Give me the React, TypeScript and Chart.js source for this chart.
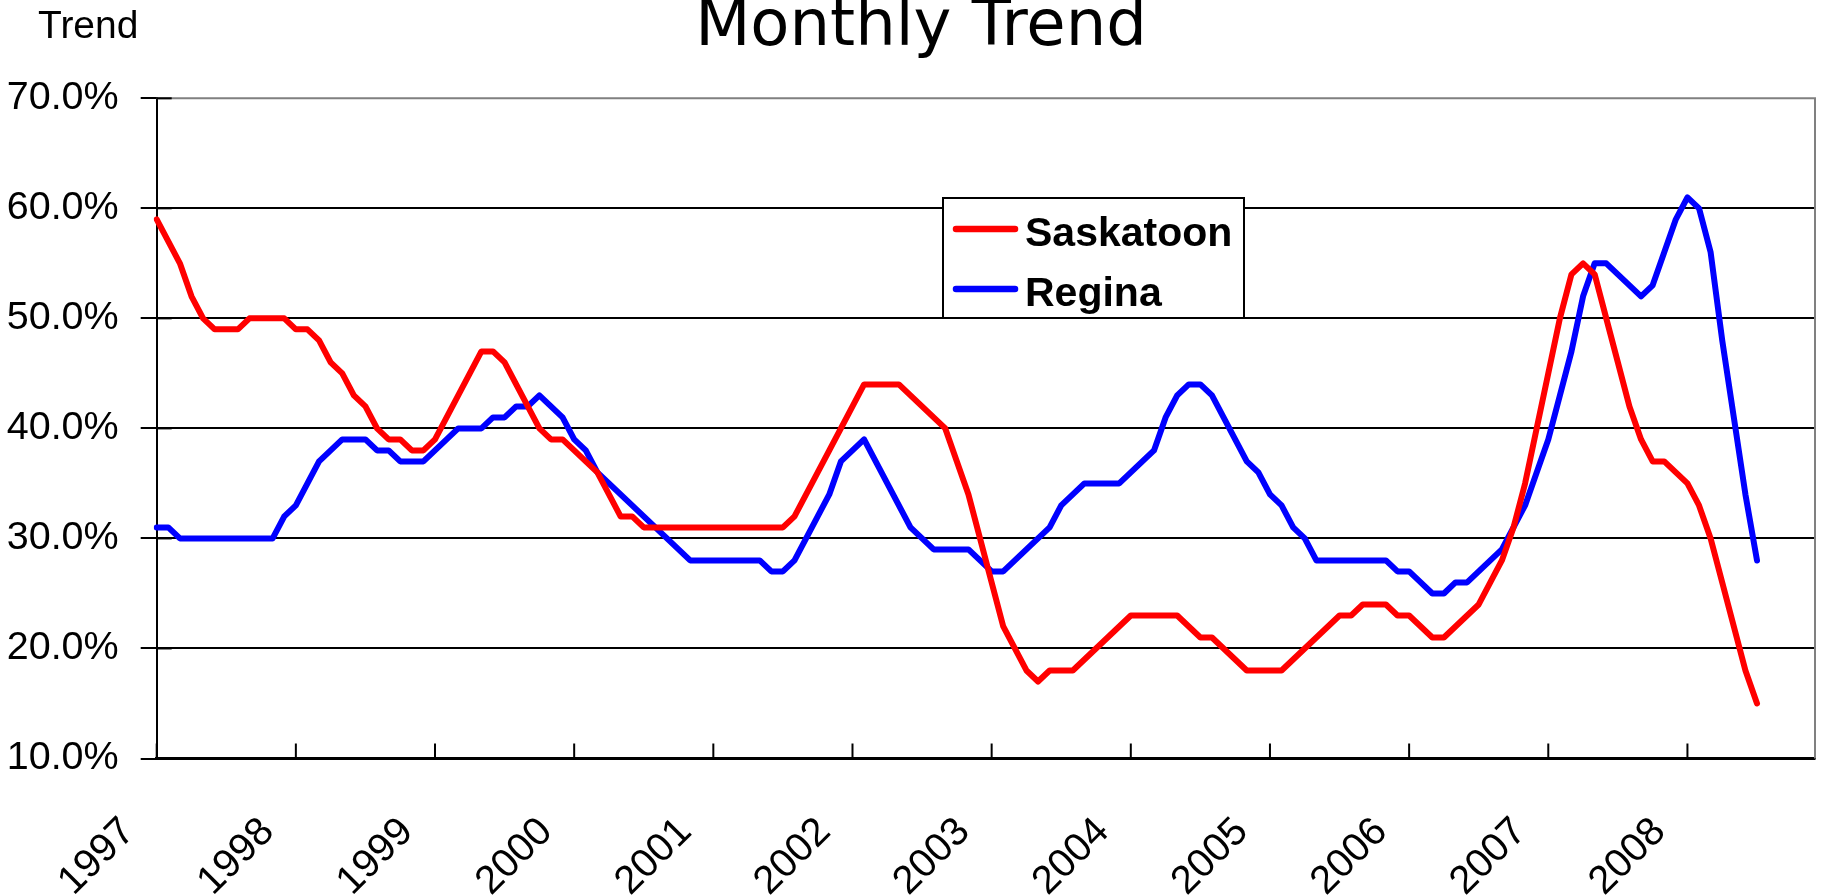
import { useEffect, useRef } from 'react';
import { Chart, registerables } from 'chart.js';

Chart.register(...registerables);

// ---- data ----
const years = ['1997', '1998', '1999', '2000', '2001', '2002', '2003', '2004', '2005', '2006', '2007', '2008'];
const monthNums = ['01', '02', '03', '04', '05', '06', '07', '08', '09', '10', '11', '12'];
const months = years.flatMap((y) => monthNums.map((m) => `${y}-${m}`));

const saskatoon = [
  59, 57, 55, 52, 50, 49, 49, 49, 50, 50,
  50, 50, 49, 49, 48, 46, 45, 43, 42, 40,
  39, 39, 38, 38, 39, 41, 43, 45, 47, 47,
  46, 44, 42, 40, 39, 39, 38, 37, 36, 34,
  32, 32, 31, 31, 31, 31, 31, 31, 31, 31,
  31, 31, 31, 31, 31, 32, 34, 36, 38, 40,
  42, 44, 44, 44, 44, 43, 42, 41, 40, 37,
  34, 30, 26, 22, 20, 18, 17, 18, 18, 18,
  19, 20, 21, 22, 23, 23, 23, 23, 23, 22,
  21, 21, 20, 19, 18, 18, 18, 18, 19, 20,
  21, 22, 23, 23, 24, 24, 24, 23, 23, 22,
  21, 21, 22, 23, 24, 26, 28, 31, 35, 40,
  45, 50, 54, 55, 54, 50, 46, 42, 39, 37,
  37, 36, 35, 33, 30, 26, 22, 18, 15,
];

const regina = [
  31, 31, 30, 30, 30, 30, 30, 30, 30, 30,
  30, 32, 33, 35, 37, 38, 39, 39, 39, 38,
  38, 37, 37, 37, 38, 39, 40, 40, 40, 41,
  41, 42, 42, 43, 42, 41, 39, 38, 36, 35,
  34, 33, 32, 31, 30, 29, 28, 28, 28, 28,
  28, 28, 28, 27, 27, 28, 30, 32, 34, 37,
  38, 39, 37, 35, 33, 31, 30, 29, 29, 29,
  29, 28, 27, 27, 28, 29, 30, 31, 33, 34,
  35, 35, 35, 35, 36, 37, 38, 41, 43, 44,
  44, 43, 41, 39, 37, 36, 34, 33, 31, 30,
  28, 28, 28, 28, 28, 28, 28, 27, 27, 26,
  25, 25, 26, 26, 27, 28, 29, 31, 33, 36,
  39, 43, 47, 52, 55, 55, 54, 53, 52, 53,
  56, 59, 61, 60, 56, 48, 41, 34, 28,
];

const seriesNames = ['Saskatoon', 'Regina'];
const seriesColors = ['#FF0000', '#0000FF'];
const yMin = 10;
const yMax = 70;
const yStep = 10;
const chartTitle = 'Monthly Trend';
const axisTitle = 'Trend';

const TICK_FONT = "'Liberation Sans Narrow', 'Liberation Sans', sans-serif";

const framePlugin = {
  id: 'frame',
  beforeDatasetsDraw(chart: any) {
    const { ctx, chartArea: a, scales } = chart;
    ctx.save();
    ctx.strokeStyle = '#808080';
    ctx.lineWidth = 2;
    ctx.beginPath();
    ctx.moveTo(a.left, a.top);
    ctx.lineTo(a.right, a.top);
    ctx.lineTo(a.right, a.bottom);
    ctx.stroke();
    ctx.strokeStyle = '#000';
    ctx.lineWidth = 2;
    const xs = scales.x;
    xs.ticks.forEach((_t: any, i: number) => {
      const px = xs.getPixelForTick(i);
      ctx.beginPath();
      ctx.moveTo(px, a.bottom);
      ctx.lineTo(px, a.bottom - 15);
      ctx.stroke();
    });
    const ys = scales.y;
    ys.ticks.forEach((_t: any, i: number) => {
      const py = ys.getPixelForTick(i);
      ctx.beginPath();
      ctx.moveTo(a.left, py);
      ctx.lineTo(a.left + 15, py);
      ctx.stroke();
    });
    ctx.restore();
  },
};

const legendPlugin = {
  id: 'boxLegend',
  afterDatasetsDraw(chart: any) {
    const { ctx } = chart;
    const bx = 943, by = 198, bw = 301, bh = 120;
    ctx.save();
    ctx.fillStyle = '#fff';
    ctx.fillRect(bx, by, bw, bh);
    ctx.strokeStyle = '#000';
    ctx.lineWidth = 2;
    ctx.strokeRect(bx, by, bw, bh);
    chart.data.datasets.forEach((ds: any, i: number) => {
      const ly = 229 + i * 60;
      ctx.strokeStyle = ds.borderColor;
      ctx.lineWidth = 6.5;
      ctx.lineCap = 'round';
      ctx.beginPath();
      ctx.moveTo(956, ly);
      ctx.lineTo(1015, ly);
      ctx.stroke();
      ctx.fillStyle = '#000';
      ctx.font = "bold 41px 'Liberation Sans', sans-serif";
      ctx.textAlign = 'left';
      ctx.textBaseline = 'alphabetic';
      ctx.fillText(ds.label, 1025, ly + 17);
    });
    ctx.restore();
  },
};

const titlesPlugin = {
  id: 'titles',
  afterDraw(chart: any) {
    const { ctx } = chart;
    ctx.save();
    ctx.fillStyle = '#000';
    ctx.textBaseline = 'alphabetic';
    ctx.font = "64px 'DejaVu Sans', sans-serif";
    ctx.textAlign = 'center';
    ctx.fillText(chartTitle, 921, 45);
    ctx.font = "39px 'Liberation Sans', sans-serif";
    ctx.textAlign = 'left';
    ctx.fillText(axisTitle, 38, 38);
    ctx.restore();
  },
};

export default function App() {
  const ref = useRef<HTMLCanvasElement | null>(null);

  useEffect(() => {
    if (!ref.current) return;
    const chart = new Chart(ref.current, {
      type: 'line',
      data: {
        labels: months,
        datasets: [
          {
            label: seriesNames[0],
            data: saskatoon,
            borderColor: seriesColors[0],
            backgroundColor: seriesColors[0],
            borderWidth: 6,
            pointRadius: 0,
            tension: 0,
            borderCapStyle: 'round',
            borderJoinStyle: 'round',
          },
          {
            label: seriesNames[1],
            data: regina,
            borderColor: seriesColors[1],
            backgroundColor: seriesColors[1],
            borderWidth: 6,
            pointRadius: 0,
            tension: 0,
            borderCapStyle: 'round',
            borderJoinStyle: 'round',
          },
        ],
      },
      options: {
        responsive: false,
        animation: false,
        layout: { padding: { top: 98.3, right: 7, bottom: 0, left: 0 } },
        plugins: {
          legend: { display: false },
          title: { display: false },
          tooltip: { enabled: false },
        },
        scales: {
          x: {
            type: 'category',
            offset: false,
            grid: { display: true, drawOnChartArea: false, drawTicks: false },
            border: { display: true, color: '#000', width: 2.5 },
            afterBuildTicks: (scale: any) => {
              scale.ticks = scale.ticks.filter((t: any) => t.value % 12 === 0);
            },
            afterFit: (scale: any) => {
              scale.height = 136.5;
            },
            ticks: {
              autoSkip: false,
              minRotation: 45,
              maxRotation: 45,
              padding: 50,
              labelOffset: -28,
              color: '#000',
              font: { family: TICK_FONT, size: 40 },
              callback: function (this: any, value: any) {
                return String(this.getLabelForValue(value)).slice(0, 4);
              },
            },
          },
          y: {
            type: 'linear',
            min: yMin,
            max: yMax,
            grid: {
              color: (c: any) => (c.tick && c.tick.value === yMax ? 'rgba(0,0,0,0)' : '#000'),
              lineWidth: 2,
              tickColor: '#000',
              tickLength: 16,
              tickWidth: 2,
            },
            border: { display: true, color: '#000', width: 2 },
            afterFit: (scale: any) => {
              scale.width = 156.7;
            },
            ticks: {
              stepSize: yStep,
              padding: 22,
              color: '#000',
              font: { family: TICK_FONT, size: 39.5 },
              callback: (v: any) => `${Number(v).toFixed(1)}%`,
            },
          },
        },
      },
      plugins: [framePlugin, legendPlugin, titlesPlugin],
    } as any);
    return () => chart.destroy();
  }, []);

  return (
    <div style={{ position: 'absolute', left: 0, top: 0, width: 1822, height: 895, background: '#fff' }}>
      <canvas ref={ref} width={1822} height={895} style={{ display: 'block' }} />
    </div>
  );
}
